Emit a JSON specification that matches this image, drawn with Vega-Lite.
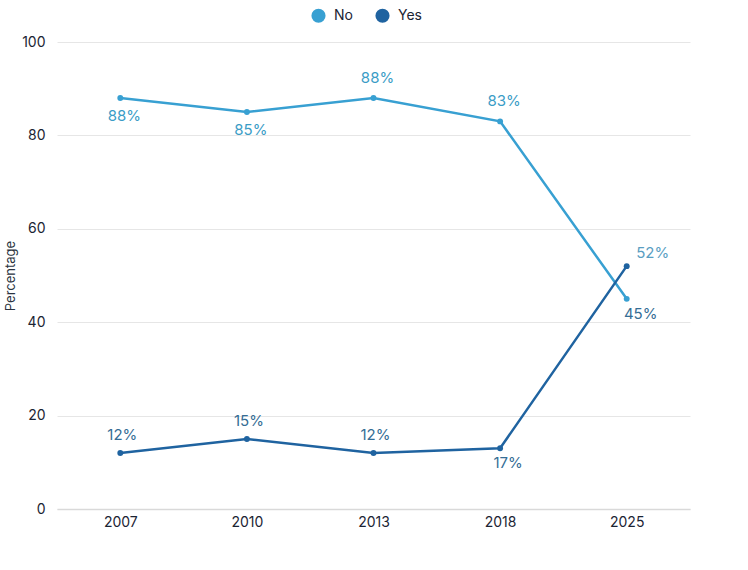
{
  "$schema": "https://vega.github.io/schema/vega-lite/v6.json",
  "autosize": {"type": "none"},
  "width": 633,
  "height": 467,
  "padding": {"left": 57, "top": 42, "right": 58, "bottom": 61},
  "background": "white",
  "config": {
    "view": {"stroke": null},
    "font": "Inter",
    "axis": {"labelFont": "Inter", "titleFont": "Inter"}
  },
  "data": {
    "values": [
      {"year": "2007", "series": "No", "value": 88, "label": "88%"},
      {"year": "2010", "series": "No", "value": 85, "label": "85%"},
      {"year": "2013", "series": "No", "value": 88, "label": "88%"},
      {"year": "2018", "series": "No", "value": 83, "label": "83%"},
      {"year": "2025", "series": "No", "value": 45, "label": "45%"},
      {"year": "2007", "series": "Yes", "value": 12, "label": "12%"},
      {"year": "2010", "series": "Yes", "value": 15, "label": "15%"},
      {"year": "2013", "series": "Yes", "value": 12, "label": "12%"},
      {"year": "2018", "series": "Yes", "value": 13, "label": "17%"},
      {"year": "2025", "series": "Yes", "value": 52, "label": "52%"}
    ]
  },
  "encoding": {
    "x": {
      "field": "year", "type": "ordinal", "title": null,
      "scale": {"type": "point", "padding": 0.5},
      "axis": {"labelAngle": 0, "ticks": false, "domain": true, "domainColor": "#d9d9d9", "domainWidth": 1.5, "labelFontSize": 14, "labelColor": "#1b2433", "labelPadding": 6, "grid": false}
    },
    "y": {
      "field": "value", "type": "quantitative", "title": "Percentage",
      "scale": {"domain": [0, 100], "nice": false},
      "axis": {"values": [0, 20, 40, 60, 80, 100], "ticks": false, "domain": false, "gridColor": "#e6e6e6", "labelFontSize": 14, "labelColor": "#1b2433", "labelPadding": 12, "titleFontSize": 13, "titleFontWeight": "normal", "titleColor": "#2a3340", "titlePadding": 4}
    }
  },
  "layer": [
    {
      "mark": {"type": "line", "strokeWidth": 2.5},
      "encoding": {
        "color": {
          "field": "series", "type": "nominal",
          "scale": {"domain": ["No", "Yes"], "range": ["#38a0d2", "#1f63a0"]},
          "legend": {"title": null, "orient": "none", "legendX": 254, "legendY": -34, "direction": "horizontal", "symbolType": "circle", "symbolSize": 200, "symbolStrokeWidth": 0, "labelFontSize": 14, "labelColor": "#1b2433", "columnPadding": 22, "labelOffset": 8}
        }
      }
    },
    {
      "mark": {"type": "point", "filled": true, "size": 35, "opacity": 1},
      "encoding": {
        "color": {"field": "series", "type": "nominal", "legend": null}
      }
    },
    {
      "transform": [{"filter": "datum.series == 'No' && (datum.year == '2007' || datum.year == '2010')"}],
      "mark": {"type": "text", "dy": 18, "dx": 4, "fontSize": 15, "color": "#3a9cc6"},
      "encoding": {"text": {"field": "label"}}
    },
    {
      "transform": [{"filter": "datum.series == 'No' && (datum.year == '2013' || datum.year == '2018')"}],
      "mark": {"type": "text", "dy": -20, "dx": 4, "fontSize": 15, "color": "#3a9cc6"},
      "encoding": {"text": {"field": "label"}}
    },
    {
      "transform": [{"filter": "datum.series == 'No' && datum.year == '2025'"}],
      "mark": {"type": "text", "dy": 15, "dx": 14, "fontSize": 15, "color": "#356d95"},
      "encoding": {"text": {"field": "label"}}
    },
    {
      "transform": [{"filter": "datum.series == 'Yes' && datum.year != '2018' && datum.year != '2025'"}],
      "mark": {"type": "text", "dy": -18, "dx": 2, "fontSize": 15, "color": "#356d95"},
      "encoding": {"text": {"field": "label"}}
    },
    {
      "transform": [{"filter": "datum.series == 'Yes' && datum.year == '2018'"}],
      "mark": {"type": "text", "dy": 15, "dx": 8, "fontSize": 15, "color": "#356d95"},
      "encoding": {"text": {"field": "label"}}
    },
    {
      "transform": [{"filter": "datum.series == 'Yes' && datum.year == '2025'"}],
      "mark": {"type": "text", "dy": -13, "dx": 26, "fontSize": 15, "color": "#5a9ec2"},
      "encoding": {"text": {"field": "label"}}
    }
  ]
}
